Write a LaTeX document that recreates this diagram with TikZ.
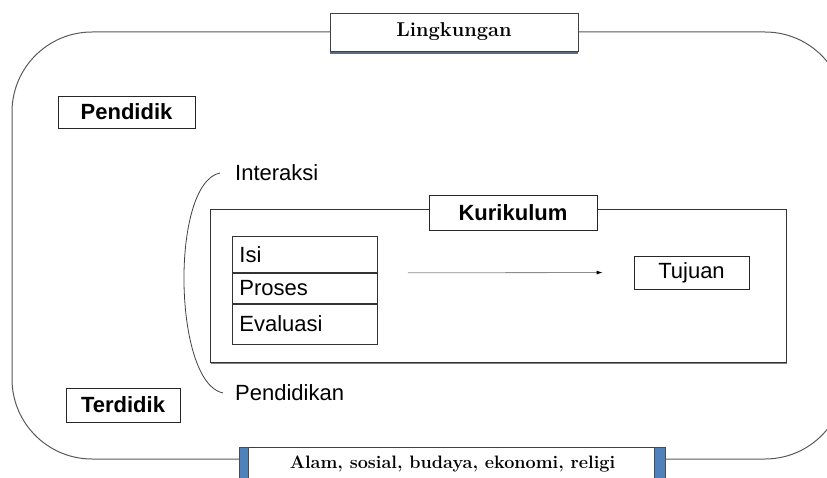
\documentclass[tikz,border=0pt]{standalone}
\usepackage{fontspec}
\setsansfont{Liberation Sans}
\usetikzlibrary{positioning,arrows.meta}
\definecolor{barblue}{HTML}{4F81BD}
\definecolor{slate}{HTML}{5B6B82}
\tikzset{
  sansfont/.style={font=\sffamily\fontsize{22}{24}\selectfont},
  labelbox/.style={draw=black!85, line width=0.8pt, fill=white, sansfont, inner sep=0pt},
  serifbox/.style={draw=black!75, line width=0.8pt, fill=white, inner sep=0pt},
  plaintext/.style={sansfont, inner sep=0pt},
  cell/.style={draw=black!80, line width=0.8pt, sansfont, text width=131pt, inner xsep=7pt, inner ysep=0pt, align=left, anchor=north west},
  arrow/.style={-{Latex[length=6pt,width=4pt,black]}, draw=black!45, line width=0.8pt}
}
\begin{document}
\begin{tikzpicture}[x=1pt,y=-1pt]
      \useasboundingbox (0,0) rectangle (827,478);
      \clip (0,0) rectangle (827,478);

      % lingkungan frame
      \draw[black!65, line width=1pt, rounded corners=80pt] (12,32) rectangle (845,459);

      \node[serifbox, minimum width=248pt, minimum height=38pt] at (454,32) (ling) {\fontsize{20}{22}\selectfont\bfseries Lingkungan};
      \draw[slate, line width=2.5pt] ([yshift=-1.5pt]ling.south west) -- ([yshift=-1.5pt]ling.south east);

      \node[serifbox, minimum width=425pt, minimum height=34pt, anchor=north] at (452.5,447) (alam) {\fontsize{18}{20}\selectfont\bfseries Alam, sosial, budaya, ekonomi, religi};
      \filldraw[fill=barblue, draw=black!70, line width=0.6pt] (alam.north west) rectangle ++(9,34);
      \filldraw[fill=barblue, draw=black!70, line width=0.6pt] (alam.north east) rectangle ++(-11,34);

      \node[labelbox, font=\sffamily\bfseries\fontsize{22}{24}\selectfont, minimum width=137pt, minimum height=32pt] at (126.5,112) (pendidik) {Pendidik};
      \node[labelbox, font=\sffamily\bfseries\fontsize{22}{24}\selectfont, minimum width=114pt, minimum height=34pt] at (123,405) (terdidik) {Terdidik};

      % interaksi pendidikan
      \node[plaintext, anchor=west] at (235,173) (interaksi) {Interaksi};
      \node[plaintext, anchor=west] at (235,393) (pendidikan) {Pendidikan};
      \draw[black!75, line width=0.8pt] ([xshift=-15pt]interaksi.west) .. controls +(-50,10) and +(-50,-10) .. ([xshift=-12pt]pendidikan.west);

      % kurikulum
      \draw[black!50, line width=2pt] (211,363) -- (787,363);
      \draw[black!80, line width=0.8pt] (210,209) rectangle (786,362);
      \node[labelbox, font=\sffamily\bfseries\fontsize{22}{24}\selectfont, minimum width=168pt, minimum height=35pt] at (513,212.5) (kurikulum) {Kurikulum};

      \node[cell, minimum height=36pt] at (232,236) (isi) {Isi};
      \node[cell, minimum height=30pt, below=0pt of isi.south west, anchor=north west] (proses) {Proses};
      \node[cell, minimum height=40pt, below=0pt of proses.south west, anchor=north west] (evaluasi) {Evaluasi};

      \node[labelbox, minimum width=115pt, minimum height=33pt] at (691.5,272.5) (tujuan) {Tujuan};
      \draw[arrow, shorten <=30pt, shorten >=31pt] (isi.south east) -- (tujuan.west);
    \end{tikzpicture}
\end{document}
